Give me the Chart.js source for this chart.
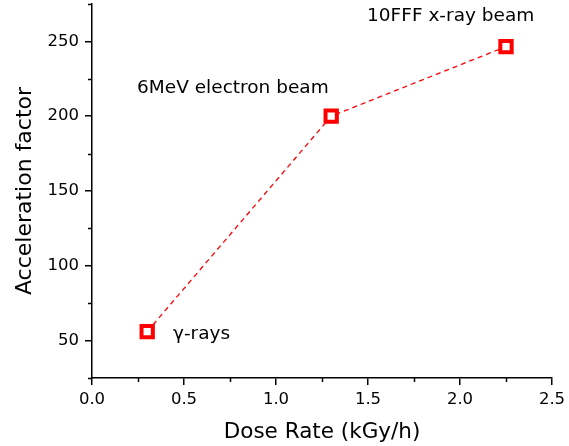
<!DOCTYPE html>
<html>
<head>
<meta charset="utf-8">
<script src="https://cdn.jsdelivr.net/npm/chart.js@4"></script>
<style>
  html, body { margin: 0; padding: 0; background: #fff; }
  canvas { display: block; }
</style>
</head>
<body>
<canvas id="chart" width="569" height="446"></canvas>
<script>
  // Datos
  const doseRate = [0.3, 1.3, 2.25];
  const accelFactor = [56, 200, 246.5];
  const yTicks = [50, 100, 150, 200, 250];
  const yMinor = [25, 75, 125, 175, 225, 275];
  const xMinor = [0.25, 0.75, 1.25, 1.75, 2.25];
  const noteTexts = ["10FFF x-ray beam", "6MeV electron beam", "\u03b3-rays"];
  const noteX = [1.495, 0.245, 0.44];
  const noteY = [266.7, 219, 54];

  const FONT = "'DejaVu Sans', sans-serif";
  const red = "#ff0000";

  // Ticks menores y rótulos de los puntos
  const extras = {
    id: "extras",
    afterDraw(chart) {
      const { ctx, scales: { x, y }, chartArea } = chart;
      ctx.save();
      ctx.strokeStyle = "#000";
      ctx.lineWidth = 1.5;
      ctx.beginPath();
      xMinor.forEach(v => {
        const px = Math.round(x.getPixelForValue(v)) + 0.5;
        ctx.moveTo(px, chartArea.bottom);
        ctx.lineTo(px, chartArea.bottom + 4);
      });
      yMinor.forEach(v => {
        const py = Math.round(y.getPixelForValue(v)) + 0.5;
        ctx.moveTo(chartArea.left, py);
        ctx.lineTo(chartArea.left - 4, py);
      });
      ctx.stroke();

      ctx.fillStyle = "#000";
      ctx.font = "18.5px " + FONT;
      ctx.textBaseline = "middle";
      ctx.textAlign = "left";
      noteTexts.forEach((t, i) => {
        ctx.fillText(t, x.getPixelForValue(noteX[i]), y.getPixelForValue(noteY[i]));
      });
      ctx.restore();
    }
  };

  new Chart(document.getElementById("chart"), {
    type: "line",
    data: {
      labels: doseRate,
      datasets: [{
        data: doseRate.map((v, i) => ({ x: v, y: accelFactor[i] })),
        borderColor: red,
        borderWidth: 1.3,
        borderDash: [5, 4],
        tension: 0,
        pointStyle: "rect",
        pointRadius: 8,
        pointBorderWidth: 4,
        pointBorderColor: red,
        pointBackgroundColor: "#fff",
        clip: false
      }]
    },
    options: {
      responsive: false,
      animation: false,
      layout: { autoPadding: false, padding: { top: 4, right: 17, left: 0, bottom: 0 } },
      plugins: { legend: { display: false }, tooltip: { enabled: false } },
      scales: {
        x: {
          type: "linear",
          min: 0, max: 2.5,
          afterFit: s => { s.height = 68; s.paddingLeft = 0; s.paddingRight = 0; },
          grid: { drawOnChartArea: false, color: "#000", lineWidth: 1.5, tickLength: 7 },
          border: { color: "#000", width: 1.5 },
          ticks: {
            stepSize: 0.5, padding: 5, color: "#000",
            font: { family: FONT, size: 16.5 },
            callback: v => Number(v).toFixed(1),
            maxRotation: 0
          },
          title: {
            display: true, text: "Dose Rate (kGy/h)", color: "#000",
            font: { family: FONT, size: 21.5 }, padding: { top: 0, bottom: 1 }
          }
        },
        y: {
          type: "linear",
          min: 25, max: 275,
          afterFit: s => { s.width = 92; s.paddingTop = 0; s.paddingBottom = 0; },
          afterBuildTicks: s => { s.ticks = yTicks.map(v => ({ value: v })); },
          grid: { drawOnChartArea: false, color: "#000", lineWidth: 1.5, tickLength: 7 },
          border: { color: "#000", width: 1.5 },
          ticks: {
            padding: 6, color: "#000",
            font: { family: FONT, size: 16.5, lineHeight: 0.4 }
          },
          title: {
            display: true, text: "Acceleration factor", color: "#000",
            font: { family: FONT, size: 22 }, padding: { top: 12, bottom: 0 }
          }
        }
      }
    },
    plugins: [extras]
  });
</script>
</body>
</html>
